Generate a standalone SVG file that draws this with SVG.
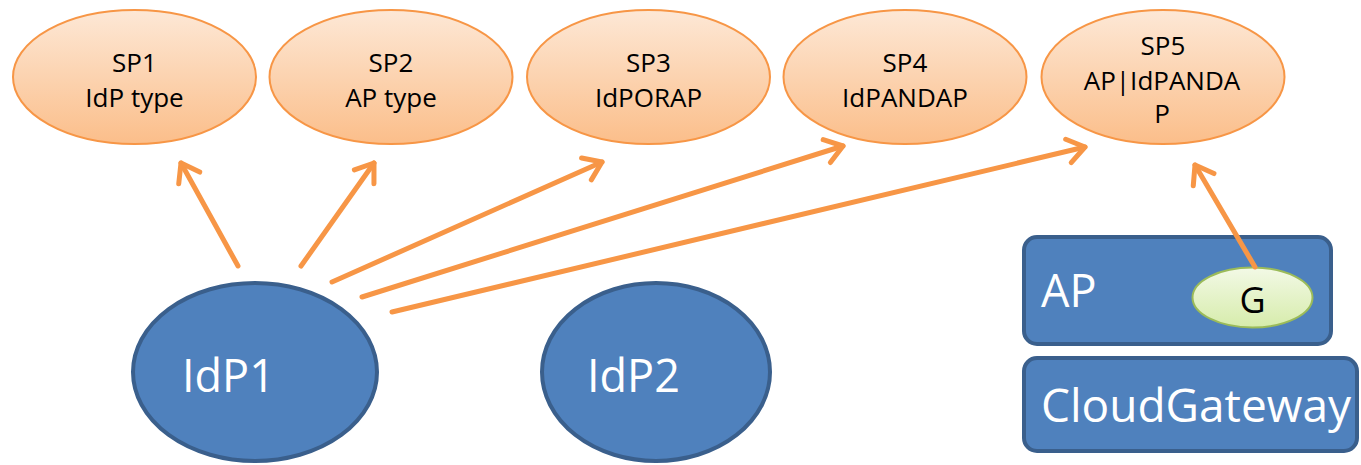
<svg xmlns="http://www.w3.org/2000/svg" width="1361" height="465" viewBox="0 0 1361 465">
<style>
.sp{fill:url(#spg);stroke:#f79646;stroke-width:2}
.spt{font-family:"Open Sans","Liberation Sans",sans-serif;font-size:26px;fill:#000;text-anchor:middle}
.blue{fill:#4f81bd;stroke:#3a5f8c;stroke-width:4}
.big{font-family:"Open Sans","Liberation Sans",sans-serif;font-size:45px;fill:#fff}
.conn{stroke:#f79646;stroke-width:5;stroke-linecap:round;fill:none;marker-end:url(#arr)}
</style>
<defs>
<linearGradient id="spg" x1="0" y1="0" x2="0" y2="1">
<stop offset="0" stop-color="#fde8d6"/>
<stop offset="1" stop-color="#fbbe8a"/>
</linearGradient>
<linearGradient id="gg" x1="0" y1="0" x2="0" y2="1">
<stop offset="0" stop-color="#f3f9e6"/>
<stop offset="1" stop-color="#d6ecab"/>
</linearGradient>
<marker id="arr" markerUnits="userSpaceOnUse" viewBox="-26 -18 30 36" markerWidth="30" markerHeight="36" refX="0" refY="0" orient="auto">
<path d="M-17,-12 L0,0 L-17,12" fill="none" stroke="#f79646" stroke-width="5" stroke-linecap="round" stroke-linejoin="round"/>
</marker>
</defs>
<g id="SP1"><ellipse class="sp" cx="134.5" cy="77" rx="121.5" ry="67"/><text class="spt" x="134.5" y="72">SP1</text><text class="spt" x="134.5" y="107">IdP type</text></g>
<g id="SP2"><ellipse class="sp" cx="391" cy="77" rx="121.5" ry="67"/><text class="spt" x="391" y="72">SP2</text><text class="spt" x="391" y="107">AP type</text></g>
<g id="SP3"><ellipse class="sp" cx="648.5" cy="77" rx="121.5" ry="67"/><text class="spt" x="648.5" y="72">SP3</text><text class="spt" x="648.5" y="107">IdPORAP</text></g>
<g id="SP4"><ellipse class="sp" cx="905" cy="77" rx="121.5" ry="67"/><text class="spt" x="905" y="72">SP4</text><text class="spt" x="905" y="107">IdPANDAP</text></g>
<g id="SP5"><ellipse class="sp" cx="1163" cy="77" rx="121.5" ry="67"/><text class="spt" x="1163" y="55">SP5</text><text class="spt" x="1162" y="90">AP|IdPANDA</text><text class="spt" x="1162" y="123">P</text></g>
<g id="IdP1"><ellipse class="blue" cx="255" cy="372" rx="122" ry="89"/><text class="big" x="182" y="392">IdP1</text></g>
<g id="IdP2"><ellipse class="blue" cx="656" cy="372" rx="114" ry="89"/><text class="big" x="587" y="392">IdP2</text></g>
<g id="AP"><rect class="blue" x="1024" y="237" width="307" height="107" rx="13"/><text class="big" x="1041" y="307">AP</text></g>
<g id="CloudGateway"><rect class="blue" x="1024" y="358" width="333" height="93" rx="13"/><text class="big" x="1041" y="422" style="font-size:46px">CloudGateway</text></g>
<g id="G"><ellipse cx="1252.5" cy="297.5" rx="60" ry="30" fill="url(#gg)" stroke="#9bbb59" stroke-width="2"/><text x="1252.5" y="313" style="font-family:'Open Sans','Liberation Sans',sans-serif;font-size:36px;fill:#000;text-anchor:middle">G</text></g>
<g id="connectors">
<line class="conn" x1="238" y1="266" x2="181" y2="163"/>
<line class="conn" x1="301" y1="266" x2="374" y2="163"/>
<line class="conn" x1="332" y1="282" x2="602" y2="162"/>
<line class="conn" x1="362" y1="297" x2="843" y2="146"/>
<line class="conn" x1="392" y1="312" x2="1085" y2="147"/>
<line class="conn" x1="1255" y1="267" x2="1195" y2="165"/>
</g>
</svg>
